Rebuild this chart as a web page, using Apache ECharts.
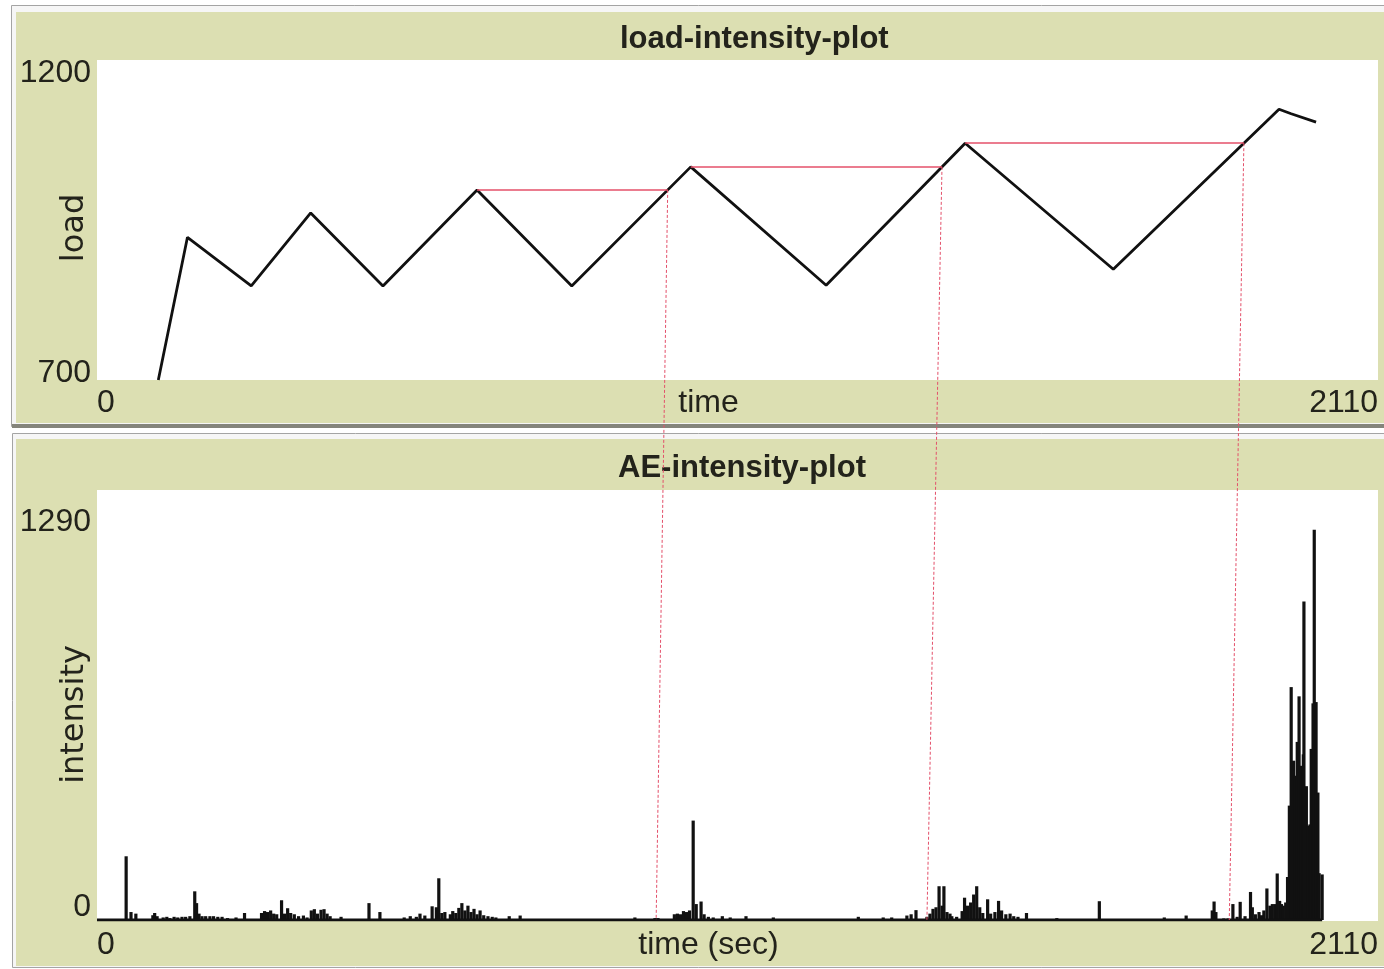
<!DOCTYPE html>
<html>
<head>
<meta charset="utf-8">
<title>load / AE intensity</title>
<script src="https://cdn.jsdelivr.net/npm/echarts@6.0.0/dist/echarts.min.js"></script>
<style>
  html, body { margin: 0; padding: 0; background: #ffffff; }
  #chart { width: 1384px; height: 969px; }
</style>
</head>
<body>
<div id="chart"></div>
<script>
// ---------------- data ----------------
// load-intensity-plot (time in s, load)
const loadTime  = [101, 149, 254, 352, 471, 626, 782, 978, 1201, 1430, 1674, 1947, 1967, 2008];
const loadValue = [700, 923, 847, 961, 847, 997, 847, 1033, 848, 1070, 873, 1123, 1116, 1103];

// AE-intensity-plot (time in s, intensity)
const aeTime = [48, 56, 64, 92, 95, 99, 109, 115, 120, 127, 133, 140, 146, 153, 161, 164, 168, 173, 179, 186,
  192, 199, 206, 215, 229, 243, 271, 276, 281, 286, 291, 296, 304, 309, 314, 319, 325, 332, 340, 346,
  353, 358, 363, 369, 374, 379, 384, 402, 448, 466, 506, 516, 526, 532, 540, 552, 559, 563, 568, 573,
  582, 586, 591, 596, 601, 606, 611, 616, 621, 626, 631, 637, 644, 651, 657, 679, 697, 886, 919, 924,
  951, 956, 961, 966, 971, 976, 982, 987, 995, 1000, 1007, 1015, 1030, 1043, 1069, 1114, 1254, 1295, 1309, 1334,
  1341, 1349, 1367, 1372, 1377, 1382, 1387, 1392, 1395, 1400, 1405, 1408, 1416, 1425, 1429, 1434, 1439, 1444, 1449, 1454,
  1459, 1467, 1472, 1479, 1485, 1490, 1497, 1504, 1510, 1517, 1531, 1581, 1651, 1758, 1794, 1837, 1840, 1843, 1856, 1863,
  1871, 1878, 1883, 1891, 1900, 1903, 1908, 1914, 1918, 1922, 1927, 1932, 1936, 1941, 1944, 1948, 1951, 1954, 1958, 1961,
  1964, 1967, 1971, 1974, 1977, 1980, 1983, 1987, 1988, 1992, 1995, 1998, 2000, 2003, 2005, 2008, 2011, 2013, 2018];
const aeValue = [200, 25, 20, 15, 22, 12, 8, 10, 6, 10, 8, 10, 10, 12, 90, 53, 20, 12, 12, 12,
  12, 10, 10, 6, 8, 22, 22, 28, 25, 30, 20, 18, 62, 20, 37, 22, 18, 12, 14, 8,
  30, 34, 20, 32, 34, 20, 12, 10, 53, 25, 8, 12, 10, 20, 14, 43, 40, 131, 22, 25,
  18, 28, 22, 38, 53, 30, 45, 25, 35, 18, 30, 15, 12, 10, 8, 12, 14, 8, 6, 6,
  18, 20, 18, 28, 25, 30, 312, 50, 58, 18, 10, 8, 12, 8, 12, 8, 10, 8, 8, 14,
  18, 31, 10, 20, 35, 40, 106, 45, 106, 25, 20, 12, 10, 28, 70, 45, 55, 80, 106, 40,
  22, 65, 20, 25, 60, 30, 18, 20, 12, 10, 22, 6, 59, 8, 14, 30, 58, 25, 5, 5,
  50, 10, 57, 12, 88, 40, 18, 25, 15, 30, 99, 45, 50, 50, 146, 60, 50, 45, 55, 135,
  359, 731, 500, 453, 559, 702, 484, 520, 1000, 420, 296, 300, 537, 680, 1225, 684, 400, 147, 143];

// axis tick values
const xTicks    = [0, 2110];
const loadTicks = [700, 1200];
const aeTicks   = [0, 1290];

// annotation: peaks whose load level is carried forward, and where the guide meets the AE time axis
const peakIdx    = [5, 7, 9];
const aeMarkTime = [921, 1367, 1865];

// ---------------- helpers ----------------
function crossing(i) {
  const v = loadValue[i];
  for (let j = i + 2; j < loadValue.length; j++) {
    if (loadValue[j - 1] < v && loadValue[j] >= v) {
      const f = (v - loadValue[j - 1]) / (loadValue[j] - loadValue[j - 1]);
      return loadTime[j - 1] + f * (loadTime[j] - loadTime[j - 1]);
    }
  }
  return loadTime[loadTime.length - 1];
}

const FONT_N = "'Liberation Sans', Arial, sans-serif";
const FONT_V = "'DejaVu Sans', sans-serif";
const TXT = '#23231b';
const OLIVE = '#dcdfb2';
const RED = '#e4506a';
const LBL = 32;

function makeX(gridIndex, name, nameGap, margin) {
  return {
    type: 'value', gridIndex: gridIndex,
    min: xTicks[0], max: xTicks[1], interval: xTicks[1] - xTicks[0],
    axisLine: { show: false }, axisTick: { show: false }, splitLine: { show: false },
    axisLabel: { color: TXT, fontFamily: FONT_N, fontSize: LBL, lineHeight: 26, margin: margin,
                 alignMinLabel: 'left', alignMaxLabel: 'right',
                 formatter: v => String(v) },
    name: name, nameLocation: 'middle', nameGap: nameGap, nameMoveOverlap: false,
    nameTextStyle: { color: TXT, fontFamily: FONT_N, fontSize: LBL, lineHeight: 26, padding: [0, 58, 0, 0] }
  };
}
function makeY(gridIndex, ticks, name, padR, minLH) {
  const st = { color: TXT, fontFamily: FONT_N, fontSize: LBL };
  return {
    type: 'value', gridIndex: gridIndex,
    min: ticks[0], max: ticks[1], interval: ticks[1] - ticks[0],
    axisLine: { show: false }, axisTick: { show: false }, splitLine: { show: false },
    axisLabel: { color: TXT, fontFamily: FONT_N, fontSize: LBL, margin: 6,
                 verticalAlignMaxLabel: 'top', verticalAlignMinLabel: 'bottom',
                 formatter: v => (v === ticks[1] ? '{mx|' + v + '}' : '{mn|' + v + '}'),
                 rich: { mx: Object.assign({ lineHeight: 26 }, st), mn: Object.assign({ lineHeight: minLH }, st) } },
    name: name, nameLocation: 'middle', nameGap: 8, nameMoveOverlap: false,
    nameTextStyle: { color: TXT, fontFamily: FONT_V, fontSize: 32, lineHeight: 28, padding: [0, padR, 0, 0] }
  };
}

// panel layout (decoration only)
const bg = [
  { id: 'p1b', type: 'rect', z: -100, silent: true, shape: { x: 11.5, y: 5.5, width: 1380, height: 421 },
    style: { fill: '#f6f6f6', stroke: '#a4a4a4', lineWidth: 1 } },
  { id: 'p1o', type: 'rect', z: -99, silent: true, shape: { x: 16, y: 12, width: 1372, height: 411 },
    style: { fill: OLIVE } },
  { id: 'p1s', type: 'rect', z: -99, silent: true, shape: { x: 12, y: 424, width: 1376, height: 4 },
    style: { fill: '#85857c' } },
  { id: 'p2b', type: 'rect', z: -100, silent: true, shape: { x: 12.5, y: 433.5, width: 1380, height: 534 },
    style: { fill: '#f6f6f6', stroke: '#a4a4a4', lineWidth: 1 } },
  { id: 'p2o', type: 'rect', z: -99, silent: true, shape: { x: 16, y: 439, width: 1372, height: 527 },
    style: { fill: OLIVE } },
  { id: 'w1', type: 'rect', z: -98, silent: true, shape: { x: 97, y: 60, width: 1281, height: 320 },
    style: { fill: '#ffffff' } },
  { id: 'w2', type: 'rect', z: -98, silent: true, shape: { x: 97, y: 490, width: 1281, height: 431 },
    style: { fill: '#ffffff' } }
];

const chart = echarts.init(document.getElementById('chart'), null, { renderer: 'canvas' });

const titleStyle = { fontFamily: FONT_N, fontWeight: 'bold', fontSize: 31, lineHeight: 30, color: TXT };
const option = {
  animation: false,
  backgroundColor: '#ffffff',
  title: [
    { text: 'load-intensity-plot', left: 620, top: 24, padding: 0, textStyle: titleStyle },
    { text: 'AE-intensity-plot', left: 618, top: 453, padding: 0, textStyle: titleStyle }
  ],
  grid: [
    { left: 97, right: 6, top: 60, bottom: 589, containLabel: false, outerBoundsMode: 'none' },
    { left: 97, right: 6, top: 509, bottom: 49, containLabel: false, outerBoundsMode: 'none' }
  ],
  xAxis: [ makeX(0, 'time', 10, 10), makeX(1, 'time (sec)', 12, 12) ],
  yAxis: [ makeY(0, loadTicks, 'load', 16, 14), makeY(1, aeTicks, 'intensity', 0, 26) ],
  series: [
    {
      type: 'line', xAxisIndex: 0, yAxisIndex: 0, silent: true,
      data: loadTime.map((t, i) => [t, loadValue[i]]),
      symbol: 'none', lineStyle: { color: '#111111', width: 2.8 },
      z: 3,
      markLine: {
        silent: true, symbol: ['none', 'none'], label: { show: false },
        lineStyle: { color: RED, width: 1.5, type: 'solid' },
        data: peakIdx.map(i => [ { coord: [loadTime[i], loadValue[i]] }, { coord: [crossing(i), loadValue[i]] } ])
      }
    },
    {
      type: 'line', xAxisIndex: 1, yAxisIndex: 1, silent: true,
      data: [[xTicks[0], 0], [aeTime[aeTime.length - 1], 0]],
      symbol: 'none', lineStyle: { color: '#111111', width: 3 }, z: 3
    },
    {
      type: 'bar', xAxisIndex: 1, yAxisIndex: 1, silent: true,
      data: aeTime.map((t, i) => [t, aeValue[i]]),
      barWidth: 3.2, itemStyle: { color: '#111111' }, z: 2
    }
  ],
  graphic: { elements: bg }
};

chart.setOption(option);

const guides = peakIdx.map((i, k) => {
  const p1 = chart.convertToPixel({ gridIndex: 0 }, [crossing(i), loadValue[i]]);
  const p2 = chart.convertToPixel({ gridIndex: 1 }, [aeMarkTime[k], 0]);
  return { id: 'g' + k, type: 'line', z: 100, silent: true,
           shape: { x1: p1[0], y1: p1[1], x2: p2[0], y2: p2[1] },
           style: { stroke: RED, lineWidth: 1, lineDash: [3, 2] } };
});
chart.setOption({ graphic: { elements: bg.concat(guides) } });
</script>
</body>
</html>
